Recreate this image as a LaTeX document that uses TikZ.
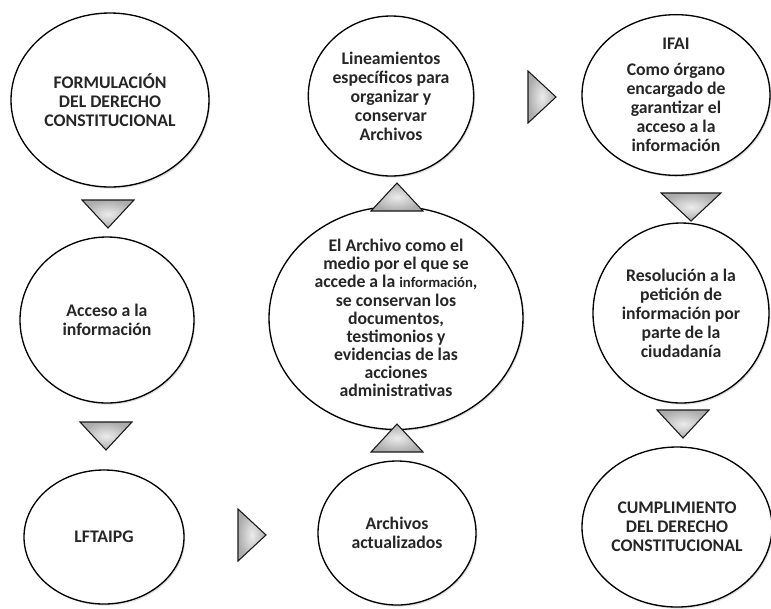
\documentclass[tikz,border=0pt]{standalone}
\usepackage{fontspec}
\setmainfont{Carlito}
\usetikzlibrary{shapes.geometric,shadows}

\tikzset{
    globo/.style = {ellipse, draw = black, line width = 1pt, fill = white, inner sep = 0pt,
        align = center, font = \bfseries\fontsize{13.3}{14.3}\selectfont, text = black!85,
        drop shadow = {opacity = 0.25, shadow xshift = 1pt, shadow yshift = -1.2pt}},
    tam/.style 2 args = {minimum width = #1*0.75pt, minimum height = #2*0.75pt},
    pics/flecha/.style = {code = {
        \draw[line width = 0.8pt, draw = black!90, shading = radial,
              inner color = gray!15, outer color = gray!65]
            (-14,-26) -- (14,0) -- (-14,26) -- cycle;
    }}
}

\begin{document}
\begin{tikzpicture}[x = 0.75pt, y = -0.75pt]
    \useasboundingbox (0,0) rectangle (771,608);
    % primera columna
    \node[globo, tam = {198}{174}] (formula) at (110,100)
        {FORMULACIÓN\\DEL DERECHO\\CONSTITUCIONAL};
    \node[globo, tam = {174}{166}] (acceso) at (107,320)
        {Acceso a la\\información};
    \node[globo, tam = {160}{134}] (lft) at (104,537)
        {LFTAIPG};
    % columna central
    \node[globo, tam = {158}{144}] (actual) at (397,533)
        {Archivos\\actualizados};
    \node[globo, tam = {254}{196},
          font = \bfseries\fontsize{13.3}{13.6}\selectfont] (archivo) at (396,318)
        {El Archivo como el\\medio por el que se\\accede a la {\fontsize{11}{12}\selectfont información},\\se conservan los\\documentos,\\testimonios y\\evidencias de las\\acciones\\administrativas};
    \node[globo, tam = {162}{160}] (linea) at (391,96)
        {Lineamientos\\específicos para\\organizar y\\conservar\\Archivos};
    % tercera columna
    \node[globo, tam = {188}{160}] (ifai) at (676,95)
        {IFAI\\[5pt]Como órgano\\encargado de\\garantizar el\\acceso a la\\información};
    \node[globo, tam = {176}{180}] (resol) at (681,313)
        {Resolución a la\\petición de\\información por\\parte de la\\ciudadanía};
    \node[globo, tam = {190}{160}] (cumpl) at (677,527)
        {CUMPLIMIENTO\\DEL DERECHO\\CONSTITUCIONAL};
    % flechas
    \pic[rotate = -90] at (108,214) {flecha};
    \pic[rotate = -90] at (106,436) {flecha};
    \pic at (252,535) {flecha};
    \pic[rotate = 90] at (397,438) {flecha};
    \pic[rotate = 90] at (397,197) {flecha};
    \pic at (542,97) {flecha};
    \pic[rotate = -90, yscale = 1.15] at (691,207) {flecha};
    \pic[rotate = -90] at (683,424) {flecha};
\end{tikzpicture}
\end{document}
